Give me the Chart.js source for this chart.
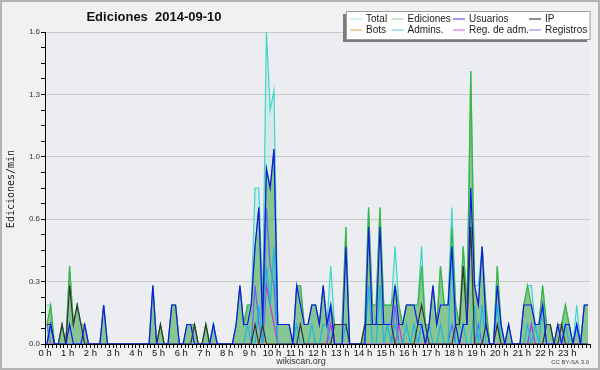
<!DOCTYPE html>
<html>
<head>
<meta charset="utf-8">
<script src="https://cdn.jsdelivr.net/npm/chart.js@4/dist/chart.umd.min.js"></script>
<style>
html,body{margin:0;padding:0;background:#f1f1f1;}
canvas{display:block;}
</style>
</head>
<body>
<canvas id="c" width="600" height="370"></canvas>
<script>
// ---- data (10-minute buckets, edits per minute) ----
const chartTitle = 'Ediciones  2014-09-10';
const yAxisTitle = 'Ediciones/min';
const hourLabels = ['0 h','1 h','2 h','3 h','4 h','5 h','6 h','7 h','8 h','9 h','10 h','11 h',
                    '12 h','13 h','14 h','15 h','16 h','17 h','18 h','19 h','20 h','21 h','22 h','23 h'];
const bucketMinutes = Array.from({length:144}, (_, i) => i * 10 + 5);

const total = [
0.2,0.2,0,0,0.1,0,0.4,0.1,0.2,0.1,0.1,0,
0,0,0,0.2,0,0,0,0,0,0,0,0,
0,0,0,0,0.3,0,0.1,0,0,0.2,0.2,0,
0,0.1,0.1,0.1,0,0,0.1,0,0.1,0,0,0,
0,0,0.1,0.3,0.1,0.2,0.2,0.8,0.8,0.2,1.6,1.2,
1.3,0.1,0.1,0.1,0.1,0,0.3,0.3,0.1,0.1,0.2,0.2,
0.1,0.3,0.1,0.4,0.1,0.1,0.1,0.6,0,0,0,0,
0.1,0.7,0.2,0.2,0.7,0.2,0.2,0.2,0.5,0.2,0.1,0.2,
0.2,0.2,0.2,0.5,0.1,0.1,0.3,0.1,0.4,0.2,0.2,0.7,
0.2,0.1,0.5,0.2,1.4,0.3,0.3,0.5,0.2,0,0,0.4,
0.1,0,0.1,0,0,0,0.2,0.3,0.3,0.1,0.1,0.3,
0.1,0.1,0,0.1,0.1,0.2,0.1,0,0.2,0,0.2,0.2];

const ediciones = [
0.1,0.2,0,0,0.1,0,0.4,0.1,0.2,0.1,0.1,0,
0,0,0,0.2,0,0,0,0,0,0,0,0,
0,0,0,0,0.3,0,0.1,0,0,0.2,0.2,0,
0,0.1,0.1,0.1,0,0,0.1,0,0.1,0,0,0,
0,0,0.1,0.3,0.1,0.2,0.2,0.5,0.7,0.2,0.9,0.8,
1.0,0.1,0.1,0.1,0.1,0,0.3,0.3,0.1,0.1,0.2,0.2,
0.1,0.3,0.1,0.2,0.1,0.1,0.1,0.6,0,0,0,0,
0.1,0.7,0.2,0.2,0.7,0.2,0.2,0.2,0.3,0.2,0.1,0.2,
0.2,0.2,0.2,0.4,0.1,0.1,0.3,0.1,0.4,0.2,0.2,0.6,
0.2,0.1,0.5,0.2,1.4,0.3,0.2,0.5,0.2,0,0,0.4,
0.1,0,0.1,0,0,0,0.2,0.3,0.2,0.1,0.1,0.3,
0.1,0.1,0,0.1,0.1,0.2,0.1,0,0.1,0,0.2,0.2];

const usuarios = [
0,0.1,0,0,0,0,0.1,0,0,0,0.1,0,
0,0,0,0.2,0,0,0,0,0,0,0,0,
0,0,0,0,0.3,0,0,0,0,0.2,0.2,0,
0,0.1,0.1,0,0,0,0,0,0.1,0,0,0,
0,0,0.1,0.3,0.1,0.1,0.2,0.5,0.7,0.1,0.9,0.8,
1.0,0.1,0.1,0.1,0.1,0,0.3,0.2,0.1,0.1,0.2,0.2,
0.1,0.3,0.1,0.2,0,0,0,0.5,0,0,0,0,
0,0.6,0.1,0.1,0.6,0.1,0.1,0.1,0.3,0.1,0.1,0.2,
0.2,0.2,0.1,0.1,0,0.1,0.3,0.1,0.2,0.2,0.2,0.5,
0.1,0,0.1,0.1,0.8,0.3,0.2,0.5,0.1,0,0,0.3,
0.1,0,0.1,0,0,0,0.2,0.2,0.2,0.1,0.1,0.2,
0,0,0,0.1,0,0.1,0.1,0,0.1,0,0.2,0.2];

const ip = [
0.1,0.1,0,0,0.1,0,0.3,0.1,0.2,0.1,0,0,
0,0,0,0,0,0,0,0,0,0,0,0,
0,0,0,0,0,0,0.1,0,0,0,0,0,
0,0,0,0.1,0,0,0.1,0,0,0,0,0,
0,0,0,0,0,0,0,0.1,0,0.1,0,0,
0,0,0,0,0,0,0,0.1,0,0,0,0,
0,0,0,0,0.1,0.1,0.1,0.1,0,0,0,0,
0.1,0.1,0.1,0.1,0.1,0.1,0.1,0.1,0,0,0,0,
0,0,0.1,0.2,0.1,0,0,0,0,0,0,0,
0.1,0.1,0.4,0.1,0.6,0,0,0,0.1,0,0,0.1,
0,0,0,0,0,0,0,0,0,0,0,0,
0.1,0.1,0,0,0.1,0,0,0,0,0,0,0];

const bots = [
0,0,0,0,0,0,0,0,0,0,0,0,
0,0,0,0,0,0,0,0,0,0,0,0,
0,0,0,0,0,0,0,0,0,0,0,0,
0,0,0,0,0,0,0,0,0,0,0,0,
0,0,0,0,0,0,0,0,0,0,0,0,
0,0,0,0,0,0,0,0,0,0,0,0,
0,0,0,0,0,0,0,0,0,0,0,0,
0,0,0,0,0,0,0,0,0,0,0,0,
0,0,0,0,0,0,0,0,0,0,0,0,
0,0,0,0,0,0,0,0,0,0,0,0,
0,0,0,0,0,0,0,0,0,0,0,0,
0,0,0,0,0,0,0,0,0,0,0,0];

const admins = [
0,0.1,0,0,0,0,0,0,0,0,0,0,
0,0,0,0,0,0,0,0,0,0,0,0,
0,0,0,0,0,0,0,0,0,0,0,0,
0,0,0,0,0,0,0,0,0.1,0,0,0,
0,0,0,0,0,0.1,0,0,0.2,0,0.4,0.2,
0.5,0,0,0,0,0,0.1,0,0,0,0.1,0,
0,0.1,0.1,0,0,0,0,0.1,0,0,0,0,
0,0.3,0,0,0.3,0,0.1,0,0.1,0,0,0.1,
0,0.1,0,0.1,0,0.1,0,0,0.1,0,0,0.5,
0,0,0.1,0,0,0.2,0,0.2,0,0,0,0.2,
0,0,0,0,0,0,0,0.1,0,0.1,0,0.2,
0,0,0,0,0,0.1,0,0,0.1,0,0,0];

const regAdm = [
0,0,0,0,0,0,0,0,0,0,0,0,
0,0,0,0,0,0,0,0,0,0,0,0,
0,0,0,0,0,0,0,0,0,0,0,0,
0,0,0,0,0,0,0,0,0,0,0,0,
0,0,0,0,0,0,0,0,0,0,0.3,0.2,
0.1,0,0,0,0,0,0,0,0,0,0,0,
0,0,0,0.1,0,0,0,0,0,0,0,0,
0,0,0,0,0,0,0,0,0,0.1,0,0,
0,0,0,0,0,0,0,0,0,0,0,0,
0,0,0,0,0,0,0,0,0,0,0,0,
0,0,0,0,0,0,0,0,0.1,0,0,0,
0,0,0,0,0,0,0,0,0,0,0,0];

const registros = [
0.1,0,0,0,0,0,0,0,0,0,0,0,
0,0,0,0,0,0,0,0,0,0,0,0,
0,0,0,0,0,0,0,0,0,0,0,0,
0,0,0,0,0,0,0,0,0,0,0,0,
0,0,0,0,0,0,0,0.3,0.1,0,0.7,0.4,
0.3,0,0,0,0,0,0,0,0,0,0,0,
0,0,0,0.2,0,0,0,0,0,0,0,0,
0,0,0,0,0,0,0,0,0.2,0,0,0,
0,0,0,0.1,0,0,0,0,0,0,0,0.1,
0,0,0,0,0,0,0.1,0,0,0,0,0,
0,0,0,0,0,0,0,0,0.1,0,0,0,
0,0,0,0,0,0,0,0,0.1,0,0,0];

const footerLeft = 'wikiscan.org';
const footerRight = 'CC BY-SA 3.0';

// ---- chart ----
function ds(label, data, color, order, extra) {
  return Object.assign({label, data, borderColor: color, backgroundColor: color,
    borderWidth: 1.2, pointRadius: 0, fill: false, order, tension: 0}, extra || {});
}
const datasets = [
  ds('Total', total, '#3fd6ca', 8, {fill: 'origin', backgroundColor: 'rgba(64,218,204,0.14)', legendColor: '#a6e6e2'}),
  ds('Ediciones', ediciones, '#3fb53f', 7, {fill: 'origin', backgroundColor: 'rgba(60,160,60,0.5)', legendColor: '#8fd28f'}),
  ds('Usuarios', usuarios, '#1414ee', 1, {legendColor: '#3c3cf0'}),
  ds('IP', ip, '#333333', 2, {legendColor: '#222222'}),
  ds('Bots', bots, '#ff9a2a', 5, {legendColor: '#f6a040'}),
  ds('Admins.', admins, '#1cb6e2', 3, {legendColor: '#55c8e2'}),
  ds('Reg. de adm.', regAdm, '#c835d8', 4, {legendColor: '#d058e0'}),
  ds('Registros', registros, '#6464f4', 6, {legendColor: '#7c7cee'})
];

const decor = {
  id: 'decor',
  beforeDraw(chart) {
    const {ctx, chartArea: a} = chart;
    ctx.save();
    ctx.fillStyle = '#f1f1f1';
    ctx.fillRect(0, 0, chart.width, chart.height);
    ctx.fillStyle = '#ecedf0';
    ctx.fillRect(a.left, a.top, a.right - a.left, a.bottom - a.top);
    ctx.restore();
  },
  afterDraw(chart) {
    const {ctx} = chart;
    ctx.save();
    // title
    ctx.fillStyle = '#111';
    ctx.font = "bold 13px 'Liberation Sans'";
    ctx.textAlign = 'center';
    ctx.textBaseline = 'alphabetic';
    ctx.fillText(chartTitle, 154, 21);
    // legend box with shadow
    ctx.fillStyle = '#7d7d7d';
    ctx.fillRect(343, 14, 244, 28);
    ctx.fillStyle = '#ffffff';
    ctx.fillRect(346.5, 11.5, 243.5, 28);
    ctx.strokeStyle = '#9a9a9a';
    ctx.lineWidth = 1;
    ctx.strokeRect(346.5, 11.5, 243.5, 28);
    const cols = [350, 391.5, 453, 529];
    const rows = [18.5, 29.5];
    ctx.font = "10px 'Liberation Sans'";
    ctx.textAlign = 'left';
    ctx.textBaseline = 'middle';
    chart.data.datasets.forEach((d, k) => {
      const cx = cols[k % 4], cy = rows[Math.floor(k / 4)];
      ctx.strokeStyle = d.legendColor;
      ctx.lineWidth = 1;
      ctx.beginPath();
      ctx.moveTo(cx, cy + 0.5);
      ctx.lineTo(cx + 12, cy + 0.5);
      ctx.stroke();
      ctx.fillStyle = '#1a1a1a';
      ctx.fillText(d.label, cx + 16, cy + 0.5);
    });
    // y title
    ctx.save();
    ctx.translate(11, 189);
    ctx.rotate(-Math.PI / 2);
    ctx.font = "10px 'DejaVu Sans Mono'";
    ctx.textAlign = 'center';
    ctx.textBaseline = 'middle';
    ctx.fillStyle = '#222';
    ctx.fillText(yAxisTitle, 0, 0);
    ctx.restore();
    // footers
    ctx.fillStyle = '#333';
    ctx.font = "9px 'Liberation Sans'";
    ctx.textAlign = 'center';
    ctx.textBaseline = 'middle';
    ctx.fillText(footerLeft, 301, 361.5);
    ctx.font = "6px 'Liberation Sans'";
    ctx.textAlign = 'right';
    ctx.fillStyle = '#444';
    ctx.fillText(footerRight, 589, 362.5);
    // outer frame
    ctx.strokeStyle = '#b3b3b3';
    ctx.lineWidth = 2;
    ctx.strokeRect(1, 1, chart.width - 2, chart.height - 2);
    ctx.restore();
  }
};

new Chart(document.getElementById('c'), {
  type: 'line',
  data: {labels: bucketMinutes, datasets},
  options: {
    responsive: false,
    animation: false,
    devicePixelRatio: 1,
    layout: {padding: {left: 0, right: 10, top: 32, bottom: 0}},
    plugins: {legend: {display: false}, tooltip: {enabled: false}, title: {display: false}},
    elements: {point: {radius: 0}, line: {tension: 0}},
    scales: {
      x: {
        type: 'linear', min: 0, max: 1440, z: 1,
        afterFit(s) { s.height = 26; },
        grid: {drawOnChartArea: false, drawTicks: true, tickLength: 4, tickColor: '#000', color: '#000'},
        border: {display: true, color: '#000', width: 1},
        ticks: {
          stepSize: 10, autoSkip: false, maxRotation: 0, minRotation: 0, maxTicksLimit: 200,
          padding: 0, color: '#111', font: {family: 'Liberation Sans', size: 9.5},
          callback: (v) => (v % 60 === 0 && v < 1440) ? hourLabels[v / 60] : ''
        }
      },
      y: {
        min: 0, max: 1.6,
        afterFit(s) { s.width = 45; },
        grid: {color: (c) => (c.index % 4 === 0 ? '#c9c9c9' : 'rgba(0,0,0,0)'), tickColor: '#000', tickLength: 4, drawTicks: true},
        border: {display: true, color: '#000', width: 1},
        ticks: {
          stepSize: 0.08, autoSkip: false, maxTicksLimit: 50, padding: 1,
          color: '#333', font: {family: 'Liberation Sans', size: 8},
          callback: (v, i) => (i % 4 === 0 ? v.toFixed(1) : '')
        }
      }
    }
  },
  plugins: [decor]
});
</script>
</body>
</html>
